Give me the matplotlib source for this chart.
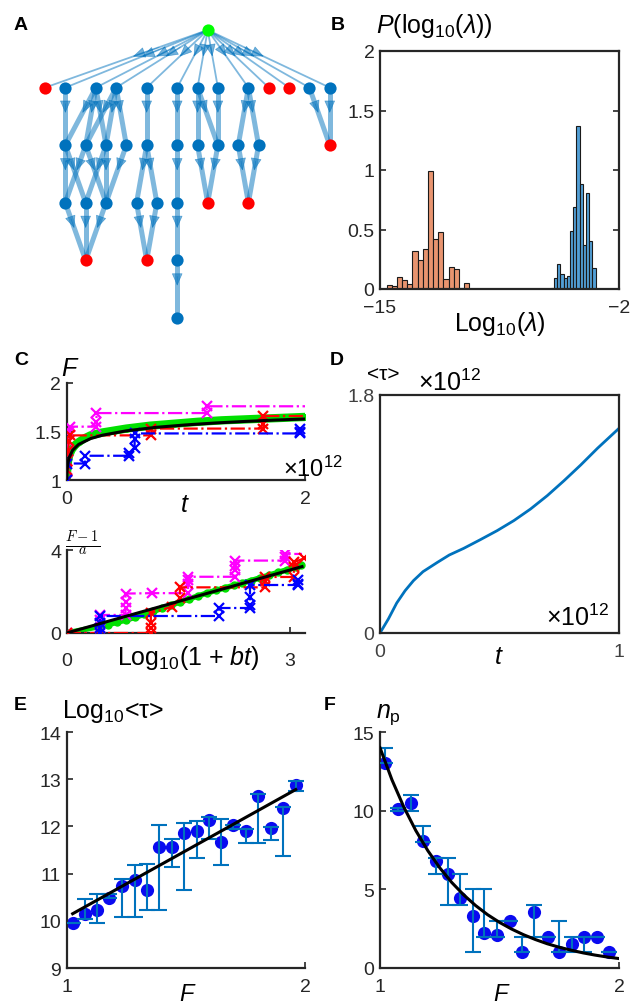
import numpy as np
import matplotlib
matplotlib.use('Agg')
import matplotlib.pyplot as plt

plt.rcParams['font.family'] = ['Liberation Sans', 'DejaVu Sans']
plt.rcParams['mathtext.fontset'] = 'custom'
plt.rcParams['mathtext.rm'] = 'Liberation Sans'
plt.rcParams['mathtext.it'] = 'Liberation Sans:italic'
plt.rcParams['mathtext.bf'] = 'Liberation Sans:bold'
plt.rcParams['axes.linewidth'] = 1.6
plt.rcParams['axes.edgecolor'] = '#262626'
plt.rcParams['xtick.direction'] = 'in'
plt.rcParams['ytick.direction'] = 'in'
plt.rcParams['xtick.color'] = '#262626'
plt.rcParams['ytick.color'] = '#262626'
plt.rcParams['xtick.labelsize'] = 14
plt.rcParams['ytick.labelsize'] = 14
plt.rcParams['xtick.major.size'] = 4
plt.rcParams['ytick.major.size'] = 4
plt.rcParams['xtick.major.width'] = 1.2
plt.rcParams['ytick.major.width'] = 1.2
plt.rcParams['xtick.major.pad'] = 7
plt.rcParams['ytick.major.pad'] = 4

# ---------------- data ----------------
# A: layered graph, x positions per layer (layout units), layer 0 = root
layer_x = [[16],
           [0, 2, 5, 7, 10, 13, 15, 17, 20, 22, 24, 26, 28],
           [2, 4, 6, 8, 10, 13, 15, 17, 19, 21, 28],
           [2, 4, 6, 9, 11, 13, 16, 20],
           [4, 10, 13],
           [13]]
red_nodes = [(1, 0), (1, 22), (1, 24), (2, 28), (3, 16), (3, 20), (4, 4), (4, 10)]
edges_12 = [(2, 2), (5, 2), (5, 4), (5, 6), (7, 4), (7, 6), (7, 8), (10, 10), (13, 13),
            (15, 15), (15, 17), (17, 17), (20, 19), (20, 21), (26, 28), (28, 28)]
edges_23 = [(2, 2), (2, 4), (4, 2), (4, 6), (6, 4), (6, 6), (8, 6), (10, 9), (10, 11),
            (13, 13), (15, 16), (17, 16), (19, 20), (21, 20)]
edges_34 = [(2, 4), (4, 4), (6, 4), (9, 10), (11, 10), (13, 13)]
edges_45 = [(13, 13)]

# B: histograms of log10(lambda)
orange_left = -14.64
orange_w = 0.281
orange_h = [0.034, 0.025, 0.10, 0.076, 0.04, 0.32, 0.245, 0.34, 0.99, 0.42, 0.48,
            0.085, 0.186, 0.166, 0.01, 0.053]
blue_left = -5.88
blue_w = 0.174
blue_h = [0.004, 0.006, 0.09, 0.21, 0.13, 0.09, 0.11, 0.49, 0.69, 1.37, 0.88, 0.37,
          0.81, 0.40, 0.18]

# C top: F vs t (x1e12)
fit_t = [0, 0.002, 0.005, 0.01, 0.02, 0.05, 0.1, 0.2, 0.3, 0.5, 0.75, 1.0, 1.25, 1.5, 1.75, 2.0]
fit_F = [1.0, 1.072, 1.125, 1.175, 1.23, 1.307, 1.367, 1.427, 1.462, 1.507, 1.543, 1.568,
         1.588, 1.604, 1.618, 1.629]
green_t = [0, 0.005, 0.01, 0.02, 0.04, 0.07, 0.1, 0.15, 0.2, 0.3, 0.4, 0.5, 0.7, 0.9, 1.1,
           1.3, 1.5, 1.7, 1.9, 2.0]
green_F = [1.0, 1.13, 1.19, 1.25, 1.31, 1.36, 1.39, 1.43, 1.46, 1.49, 1.51, 1.53, 1.56,
           1.58, 1.60, 1.615, 1.625, 1.635, 1.645, 1.65]
mag_t = [0, 0, 0.005, 0.01, 0.01, 0.02, 0.03, 0.25, 0.25, 0.25, 1.175, 1.175, 2.0]
mag_F = [1.0, 1.1, 1.2, 1.3, 1.4, 1.5, 1.55, 1.55, 1.6, 1.69, 1.69, 1.76, 1.76]
red_t = [0, 0, 0.005, 0.01, 0.02, 0.03, 0.71, 0.71, 1.65, 1.65, 1.65, 2.0]
red_F = [1.0, 1.1, 1.2, 1.3, 1.4, 1.46, 1.46, 1.53, 1.53, 1.58, 1.66, 1.66]
blu_t = [0, 0, 0.154, 0.154, 0.523, 0.523, 0.57, 0.57, 0.57, 1.96, 1.96, 1.96]
blu_F = [1.0, 1.17, 1.17, 1.25, 1.25, 1.28, 1.33, 1.42, 1.48, 1.48, 1.5, 1.53]

# C bottom: (F-1)/a vs log10(1+bt)
line_x = [0, 3.16]
line_y = [0, 3.2]
green2_x = [0, 0.42, 0.55, 0.68, 0.8, 0.92, 1.04, 1.16, 1.28, 1.4, 1.52, 1.64, 1.76, 1.88,
            2.0, 2.12, 2.24, 2.36, 2.48, 2.6, 2.72, 2.84, 2.96, 3.08, 3.15]
green2_y = [0, 0.3, 0.4, 0.52, 0.63, 0.76, 0.9, 1.04, 1.19, 1.34, 1.49, 1.64, 1.78, 1.92,
            2.05, 2.17, 2.29, 2.41, 2.53, 2.66, 2.79, 2.92, 3.05, 3.18, 3.26]
mag2_x = [0, 0.45, 0.45, 0.45, 0.45, 0.79, 0.79, 0.79, 0.79, 1.14, 1.63, 1.63, 1.63, 1.63,
          2.26, 2.26, 2.26, 2.26, 2.93, 2.93, 2.93, 3.16]
mag2_y = [0, 0, 0.24, 0.63, 0.87, 0.87, 1.19, 1.51, 1.9, 1.92, 1.92, 2.38, 2.54, 2.71,
          2.71, 3.02, 3.25, 3.49, 3.49, 3.65, 3.81, 3.81]
red2_x = [0, 1.13, 1.13, 1.13, 1.13, 1.41, 1.52, 1.52, 2.66, 2.66, 2.66, 3.05, 3.05, 3.05, 3.19]
red2_y = [0, 0, 0.24, 0.48, 0.95, 1.27, 1.67, 2.2, 2.2, 2.5, 2.7, 2.7, 3.18, 3.41, 3.6]
blu2_x = [0.45, 0.45, 0.45, 0.45, 2.04, 2.04, 2.46, 2.46, 2.46, 2.46, 3.1, 3.1, 3.1]
blu2_y = [0.0, 0.24, 0.48, 0.84, 0.84, 1.2, 1.2, 1.35, 1.75, 2.3, 2.3, 2.38, 2.54]

# D: <tau> vs t (both x1e12)
D_t = [0, 0.035, 0.07, 0.105, 0.14, 0.18, 0.24, 0.29, 0.35, 0.42, 0.49, 0.56, 0.63, 0.70,
       0.77, 0.84, 0.91, 1.0]
D_tau = [0, 0.106, 0.227, 0.32, 0.396, 0.464, 0.534, 0.59, 0.64, 0.706, 0.774, 0.85, 0.938,
         1.039, 1.152, 1.271, 1.397, 1.548]

# E: log10<tau> vs F
E_F = [1.025, 1.077, 1.129, 1.179, 1.234, 1.285, 1.337, 1.389, 1.44, 1.492, 1.545, 1.597,
       1.648, 1.699, 1.752, 1.804, 1.856, 1.909, 1.961]
E_y = [9.95, 10.15, 10.22, 10.48, 10.73, 10.87, 10.66, 11.56, 11.57, 11.86, 11.91, 12.13,
       11.68, 12.04, 11.91, 12.65, 11.96, 12.39, 12.87]
E_lo = [9.95, 10.04, 9.96, 10.48, 10.09, 10.09, 10.22, 10.22, 11.15, 10.66, 11.33, 11.73,
        11.19, 11.94, 11.64, 11.64, 11.72, 11.38, 12.74]
E_hi = [9.95, 10.46, 10.56, 10.56, 10.89, 11.19, 11.20, 12.03, 11.73, 12.08, 12.12, 12.19,
        12.15, 12.04, 11.94, 12.68, 11.99, 12.42, 12.96]
E_fit_F = [1.025, 1.961]
E_fit_y = [10.15, 12.78]

# F: n_p vs F
F_F = [1.021, 1.077, 1.128, 1.181, 1.233, 1.285, 1.335, 1.388, 1.437, 1.491, 1.544, 1.593,
       1.646, 1.702, 1.75, 1.802, 1.854, 1.907, 1.96]
F_n = [13.0, 10.1, 10.5, 8.05, 6.8, 5.98, 4.46, 3.3, 2.22, 2.11, 3.0, 1.0, 3.55, 2.0, 1.0,
       1.54, 2.0, 2.0, 1.0]
F_lo = [13, 10, 10, 8, 6, 4, 4, 1, 2, 2, 3, 1, 2, 2, 1, 1, 1, 2, 1]
F_hi = [14, 10.2, 11, 9, 7, 7, 6, 5, 5, 3, 3, 2, 4, 2, 3, 2, 2, 2, 1]
F_fit_F = [1.0, 1.05, 1.1, 1.15, 1.2, 1.25, 1.3, 1.35, 1.4, 1.45, 1.5, 1.55, 1.6, 1.65, 1.7,
           1.75, 1.8, 1.85, 1.9, 1.95, 2.0]
F_fit_n = [14.0, 11.96, 10.22, 8.73, 7.46, 6.37, 5.44, 4.65, 3.97, 3.39, 2.90, 2.48, 2.12,
           1.81, 1.54, 1.32, 1.13, 0.96, 0.82, 0.70, 0.60]

mblue = '#0072BD'
W, H = 631, 1004
fig = plt.figure(figsize=(W / 100, H / 100), dpi=100)


def rect(l, t, r, b):
    return [l / W, 1 - b / H, (r - l) / W, (b - t) / H]


def ftext(x, y, s, **kw):
    kw.setdefault('color', 'black')
    fig.text(x / W, 1 - y / H, s, **kw)


def two_spines(ax):
    ax.spines['top'].set_visible(False)
    ax.spines['right'].set_visible(False)


# ---------------- A ----------------
axA = fig.add_axes(rect(30, 15, 345, 335))
axA.set_xlim(-1.475, 29.5)
axA.set_ylim(5.278, -0.278)
axA.axis('off')


def draw_edge(x0, y0, x1, y1, lw, fa=0.28, fb=0.44):
    axA.plot([x0, x1], [y0, y1], color=mblue, alpha=0.5, lw=lw, solid_capstyle='butt', zorder=1)
    axA.annotate('', xy=(x0 + fb * (x1 - x0), y0 + fb * (y1 - y0)),
                 xytext=(x0 + fa * (x1 - x0), y0 + fa * (y1 - y0)),
                 arrowprops=dict(arrowstyle='-|>,head_length=0.8,head_width=0.35', color=mblue,
                                 alpha=0.55, lw=0.5, shrinkA=0, shrinkB=0, mutation_scale=10),
                 zorder=2)


for x1 in layer_x[1]:
    draw_edge(layer_x[0][0], 0, x1, 1, 1.3, 0.3, 0.46)
for L, elist in [(1, edges_12), (2, edges_23), (3, edges_34), (4, edges_45)]:
    for a, b in elist:
        draw_edge(a, L, b, L + 1, 3.6)

for L, xs in enumerate(layer_x):
    for x in xs:
        if L == 0:
            c = '#00FF00'
        elif (L, x) in red_nodes:
            c = '#FF0000'
        else:
            c = mblue
        axA.plot(x, L, 'o', ms=8.8, color=c, mec='none', zorder=3)

# ---------------- B ----------------
axB = fig.add_axes(rect(380, 52, 619, 290))
ox = orange_left + orange_w * np.arange(len(orange_h))
bx = blue_left + blue_w * np.arange(len(blue_h))
axB.bar(ox, orange_h, width=orange_w, align='edge', color='#E8946F', edgecolor='#1a1a1a', lw=0.8)
axB.bar(bx, blue_h, width=blue_w, align='edge', color='#529FD6', edgecolor='#1a1a1a', lw=0.8)
axB.set_xlim(-15, -2)
axB.set_ylim(0, 2)
axB.set_xticks([-15, -2])
axB.set_yticks([0, 0.5, 1, 1.5, 2])
axB.set_yticklabels(['0', '0.5', '1', '1.5', '2'])
axB.tick_params(top=True, right=True)

# ---------------- C top ----------------
axC1 = fig.add_axes(rect(66.7, 384, 305, 481))
two_spines(axC1)
axC1.plot(green_t, green_F, '-o', color='#00E000', lw=6, ms=4, zorder=2)
axC1.plot(mag_t, mag_F, '-.x', color='#FF00FF', lw=1.6, ms=7, mew=1.6, markevery=slice(0, -1), zorder=3)
axC1.plot(red_t, red_F, '-.x', color='#FF0000', lw=1.6, ms=7, mew=1.6, markevery=slice(0, -1), zorder=3)
axC1.plot(blu_t, blu_F, '-.x', color='#0000FF', lw=1.6, ms=7, mew=1.6, zorder=3)
axC1.plot(fit_t, fit_F, '-', color='black', lw=2.2, zorder=4)
axC1.set_xlim(0, 2)
axC1.set_ylim(1, 2)
axC1.set_xticks([0, 2])
axC1.set_yticks([1, 1.5, 2])
axC1.set_yticklabels(['1', '1.5', '2'])

# ---------------- C bottom ----------------
axC2 = fig.add_axes(rect(66.7, 551, 305, 634))
two_spines(axC2)
axC2.plot(green2_x, green2_y, '-o', color='#00E000', lw=4, ms=5, zorder=2)
axC2.plot(mag2_x, mag2_y, '-.x', color='#FF00FF', lw=1.6, ms=7, mew=1.6, markevery=slice(0, -1), zorder=3)
axC2.plot(red2_x, red2_y, '-.x', color='#FF0000', lw=1.6, ms=7, mew=1.6, zorder=3)
axC2.plot(blu2_x, blu2_y, '-.x', color='#0000FF', lw=1.6, ms=7, mew=1.6, zorder=3)
axC2.plot(line_x, line_y, '-', color='black', lw=2.2, zorder=4)
axC2.set_xlim(0, 3.2)
axC2.set_ylim(0, 4)
axC2.set_xticks([0, 3])
axC2.set_yticks([0, 4])
axC2.tick_params(axis='x', pad=14)

# ---------------- D ----------------
axD = fig.add_axes(rect(380, 396, 619, 634))
axD.plot(D_t, D_tau, '-', color=mblue, lw=2)
axD.set_xlim(0, 1)
axD.set_ylim(0, 1.8)
axD.set_xticks([0, 1])
axD.set_yticks([0, 1.8])
axD.set_yticklabels(['0', '1.8'])
axD.tick_params(top=True, right=True, labelcolor='#404040')

# ---------------- E ----------------
axE = fig.add_axes(rect(66.7, 733, 305, 969))
two_spines(axE)
E_y_a = np.array(E_y)
axE.plot(E_F, E_y, 'o', color='#0A0AF0', ms=9.5, mec='none', zorder=2)
axE.errorbar(E_F, E_y, yerr=[E_y_a - np.array(E_lo), np.array(E_hi) - E_y_a], fmt='none',
             ecolor=mblue, elinewidth=1.5, capsize=6, capthick=1.5, zorder=3)
axE.plot(E_fit_F, E_fit_y, '-', color='black', lw=2.2, zorder=4)
axE.set_xlim(1, 2)
axE.set_ylim(9, 14)
axE.set_xticks([1, 2])
axE.set_yticks([9, 10, 11, 12, 13, 14])

# ---------------- F ----------------
axF = fig.add_axes(rect(380, 733, 619, 969))
two_spines(axF)
F_n_a = np.array(F_n)
axF.plot(F_F, F_n, 'o', color='#0A0AF0', ms=9.5, mec='none', zorder=2)
axF.errorbar(F_F, F_n, yerr=[F_n_a - np.array(F_lo), np.array(F_hi) - F_n_a], fmt='none',
             ecolor=mblue, elinewidth=1.5, capsize=6, capthick=1.5, zorder=3)
axF.plot(F_fit_F, F_fit_n, '-', color='black', lw=2.2, zorder=4)
axF.set_xlim(1, 2)
axF.set_ylim(0, 15)
axF.set_xticks([1, 2])
axF.set_yticks([0, 5, 10, 15])

# ---------------- texts ----------------
for s, x, y in [('A', 14, 30), ('B', 331, 30), ('C', 14, 365), ('D', 330, 365),
                ('E', 14, 710), ('F', 324, 710)]:
    ftext(x, y, s, fontsize=14, fontweight='bold', va='baseline')

ftext(376, 33, r'$P$(log$_{10}$($\lambda$))', fontsize=18, va='baseline')
ftext(500, 310, r'Log$_{10}$($\lambda$)', fontsize=18, ha='center', va='top')

ftext(61, 376, r'$F$', fontsize=18, va='baseline')
ftext(283, 477, r'×10$^{12}$', fontsize=17, va='baseline')
ftext(185, 512, r'$t$', fontsize=18, ha='center', va='baseline')

ftext(83, 544, r'$\frac{F-1}{a}$', fontsize=15, ha='center', va='center', math_fontfamily='cm')
ftext(188, 665, r'Log$_{10}$(1 + $bt$)', fontsize=18, ha='center', va='baseline')

ftext(367, 380, '<τ>', fontsize=15, va='baseline')
ftext(418, 391, r'×10$^{12}$', fontsize=18, va='baseline')
ftext(546, 626, r'×10$^{12}$', fontsize=18, va='baseline')
ftext(499, 664, r'$t$', fontsize=18, ha='center', va='baseline')

ftext(62, 718, r'Log$_{10}$<τ>', fontsize=18, va='baseline')
ftext(188, 1001, r'$F$', fontsize=17, ha='center', va='baseline')

ftext(376, 718, r'$n_{\rm p}$', fontsize=18, va='baseline')
ftext(502, 1001, r'$F$', fontsize=17, ha='center', va='baseline')

fig.savefig('out.png', dpi=100)
